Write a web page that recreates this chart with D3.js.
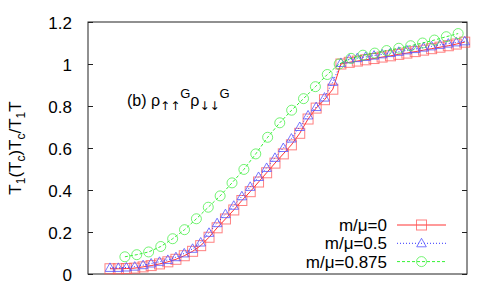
<!DOCTYPE html>
<html>
<head>
<meta charset="utf-8">
<title>T1 ratio</title>
<script src="https://d3js.org/d3.v7.min.js"></script>
<style>
  body { margin: 0; background: #fff; }
  svg text { font-family: "Liberation Sans", Arial, Helvetica, sans-serif; fill: #000; }
  .arr { font-family: "DejaVu Sans", sans-serif; }
</style>
</head>
<body>
<div id="chart"></div>
<script>
// x values are T/Tc, y values are T1(Tc)Tc/T1T
var tRB = [0.087, 0.120, 0.152, 0.185, 0.218, 0.250, 0.283, 0.316, 0.348, 0.381,
           0.414, 0.446, 0.479, 0.511, 0.544, 0.577, 0.609, 0.642, 0.675, 0.707,
           0.740, 0.773, 0.805, 0.838, 0.871, 0.903, 0.936, 0.969, 1.001, 1.034,
           1.066, 1.099, 1.132, 1.164, 1.197, 1.230, 1.262, 1.295, 1.328, 1.360,
           1.393, 1.426, 1.458, 1.491];
var red = [0.025, 0.025, 0.026, 0.028, 0.034, 0.040, 0.048, 0.058, 0.070, 0.087,
           0.108, 0.135, 0.175, 0.220, 0.262, 0.305, 0.350, 0.392, 0.438, 0.482,
           0.528, 0.572, 0.615, 0.670, 0.738, 0.790, 0.830, 0.880, 1.000, 1.008,
           1.014, 1.020, 1.026, 1.033, 1.039, 1.046, 1.052, 1.059, 1.066, 1.073,
           1.080, 1.087, 1.095, 1.104];
var blue = [0.029, 0.029, 0.031, 0.035, 0.042, 0.050, 0.058, 0.067, 0.080, 0.098,
            0.120, 0.150, 0.196, 0.242, 0.285, 0.325, 0.370, 0.415, 0.462, 0.505,
            0.553, 0.600, 0.645, 0.700, 0.755, 0.795, 0.840, 0.915, 1.005, 1.022,
            1.028, 1.034, 1.040, 1.046, 1.052, 1.058, 1.065, 1.071, 1.078, 1.084,
            1.091, 1.097, 1.103, 1.108];
var tG = [0.146, 0.193, 0.240, 0.288, 0.335, 0.382, 0.429, 0.476, 0.523, 0.570,
          0.617, 0.664, 0.711, 0.759, 0.806, 0.853, 0.900, 0.947, 0.994, 1.041,
          1.088, 1.135, 1.182, 1.230, 1.277, 1.324, 1.371, 1.418, 1.465];
var green = [0.082, 0.092, 0.105, 0.131, 0.168, 0.211, 0.263, 0.318, 0.372, 0.434,
             0.498, 0.572, 0.651, 0.720, 0.780, 0.835, 0.892, 0.950, 1.000, 1.027,
             1.042, 1.052, 1.064, 1.075, 1.087, 1.100, 1.114, 1.130, 1.145];
var yTicks = [0, 0.2, 0.4, 0.6, 0.8, 1, 1.2];
var legendLabels = ["m/\u03bc=0", "m/\u03bc=0.5", "m/\u03bc=0.875"];

var W = 500, H = 295;
var margin = {top: 22, right: 33, bottom: 21, left: 88};
var width = W - margin.left - margin.right,
    height = H - margin.top - margin.bottom;

var svg = d3.select("#chart").append("svg")
  .attr("width", W).attr("height", H);
var g = svg.append("g")
  .attr("transform", "translate(" + margin.left + "," + margin.top + ")");

var x = d3.scaleLinear().domain([0, 1.5]).range([0, width]);
var y = d3.scaleLinear().domain([0, 1.2]).range([height, 0]);

// frame
g.append("rect").attr("width", width).attr("height", height)
  .attr("fill", "none").attr("stroke", "#222").attr("stroke-width", 1);

// y ticks, left and mirrored on the right
g.append("g").call(d3.axisLeft(y).tickValues(yTicks).tickSize(-5).tickPadding(16)
    .tickFormat(function(d) { return d3.format("")(d); }))
  .call(function(a) {
    a.select(".domain").remove();
    a.selectAll("line").attr("stroke", "#222");
    a.selectAll("text").style("font-size", "17px").attr("dy", "0.36em");
  });
g.append("g").attr("transform", "translate(" + width + ",0)")
  .call(d3.axisRight(y).tickValues(yTicks).tickSize(-5).tickFormat(""))
  .call(function(a) {
    a.select(".domain").remove();
    a.selectAll("line").attr("stroke", "#222");
  });

// y label
var yl = svg.append("text")
  .attr("transform", "translate(21," + (margin.top + height / 2) + ") rotate(-90)")
  .attr("text-anchor", "middle").style("font-size", "17px");
yl.append("tspan").text("T");
yl.append("tspan").attr("dy", 4).style("font-size", "12px").text("1");
yl.append("tspan").attr("dy", -4).text("(T");
yl.append("tspan").attr("dy", 4).style("font-size", "12px").text("c");
yl.append("tspan").attr("dy", -4).text(")T");
yl.append("tspan").attr("dy", 4).style("font-size", "12px").text("c");
yl.append("tspan").attr("dy", -4).text("/T");
yl.append("tspan").attr("dy", 4).style("font-size", "12px").text("1");
yl.append("tspan").attr("dy", -4).text("T");

// annotation
var an = svg.append("text").attr("x", 127).attr("y", 106).style("font-size", "16px");
an.append("tspan").text("(b) \u03c1");
an.append("tspan").attr("class", "arr").attr("dy", 4).style("font-size", "12px").text("\u2191\u2191");
an.append("tspan").attr("dy", -12).style("font-size", "13px").text("G");
an.append("tspan").attr("dy", 8).text("\u03c1");
an.append("tspan").attr("class", "arr").attr("dy", 4).style("font-size", "12px").text("\u2193\u2193");
an.append("tspan").attr("dy", -12).style("font-size", "13px").text("G");

var series = [
  {t: tRB, v: red, line: "#ff0000", mark: "#ff5555", dash: null, shape: "square"},
  {t: tRB, v: blue, line: "#0000ff", mark: "#5555ff", dash: "1,2", shape: "triangle"},
  {t: tG, v: green, line: "#00ee00", mark: "#44ee44", dash: "3,2", shape: "circle"}
];

function marker(sel, shape, color) {
  if (shape === "square") {
    sel.append("rect").attr("x", -5).attr("y", -5).attr("width", 10).attr("height", 10)
      .attr("fill", "none").attr("stroke", color).attr("stroke-opacity", 0.75);
  } else if (shape === "triangle") {
    sel.append("path").attr("d", "M0,-5L4.8,3.5L-4.8,3.5Z")
      .attr("fill", "none").attr("stroke", color).attr("stroke-opacity", 0.8);
  } else {
    sel.append("circle").attr("r", 5)
      .attr("fill", "none").attr("stroke", color).attr("stroke-opacity", 0.75);
  }
}

var plot = g.append("g");
series.forEach(function(s) {
  var pts = s.t.map(function(t, i) { return [t, s.v[i]]; });
  plot.append("path").datum(pts)
    .attr("d", d3.line().x(function(d) { return x(d[0]); }).y(function(d) { return y(d[1]); }))
    .attr("fill", "none").attr("stroke", s.line).attr("stroke-width", 1)
    .attr("stroke-opacity", 0.8)
    .attr("stroke-dasharray", s.dash);
  plot.selectAll(null).data(pts).enter().append("g")
    .attr("transform", function(d) { return "translate(" + x(d[0]) + "," + y(d[1]) + ")"; })
    .each(function() { marker(d3.select(this), s.shape, s.mark); });
});

// legend
var lg = svg.append("g");
series.forEach(function(s, i) {
  var ly = 225 + i * 18.3;
  lg.append("text").attr("x", 387).attr("y", ly).attr("dy", "0.36em")
    .attr("text-anchor", "end").style("font-size", "17px").text(legendLabels[i]);
  lg.append("line").attr("x1", 397).attr("x2", 446).attr("y1", ly).attr("y2", ly)
    .attr("stroke", s.line).attr("stroke-opacity", 0.8).attr("stroke-dasharray", s.dash);
  var m = lg.append("g").attr("transform", "translate(421.5," + ly + ")");
  marker(m, s.shape, s.mark);
});
</script>
</body>
</html>
